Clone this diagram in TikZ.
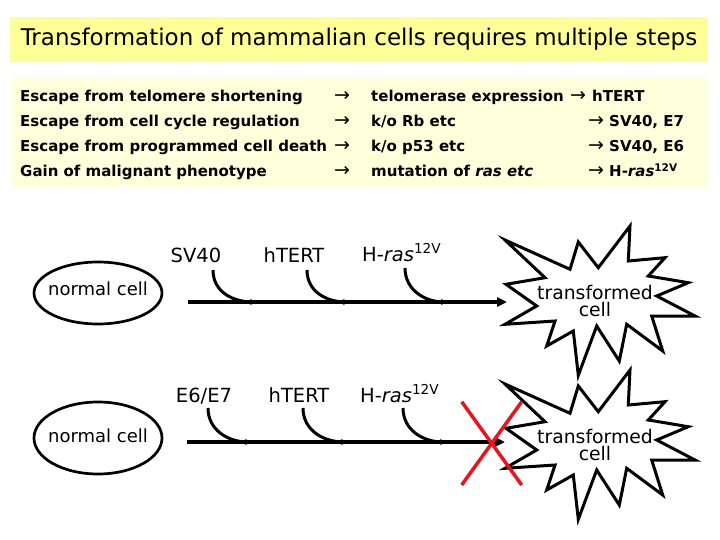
\documentclass[tikz,border=0pt]{standalone}
\usepackage{fontspec}
\setmainfont{DejaVu Sans}
\usetikzlibrary{arrows.meta,shapes.geometric}
\definecolor{titlebg}{HTML}{FFFF99}
\definecolor{infobg}{HTML}{FFFFDC}
\definecolor{xred}{HTML}{E5161D}
\begin{document}
\begin{tikzpicture}[x=1pt,y=-1pt,
 titlebox/.style={fill=titlebg,minimum width=698pt,minimum height=45pt,inner sep=0pt,font=\fontsize{23}{27}\selectfont},
 infobox/.style={fill=infobg,minimum width=696pt,minimum height=110pt,inner sep=0pt,anchor=north west},
 listtxt/.style={anchor=base west,inner sep=0pt,font=\bfseries\fontsize{15}{18}\selectfont},
 listarr/.style={anchor=base west,inner sep=0pt,font=\fontsize{19}{18}\selectfont},
 lbl/.style={anchor=base,inner sep=0pt,font=\fontsize{19.5}{23}\selectfont},
 lblw/.style={anchor=base west,inner sep=0pt,font=\fontsize{19.5}{23}\selectfont},
 cellshape/.style={ellipse,draw,line width=2.7pt,inner sep=0pt,minimum width=128pt},
 celltext/.style={anchor=base,inner sep=0pt,font=\fontsize{18}{22}\selectfont},
 tcell/.style={align=center,inner sep=0pt,font=\fontsize{18.8}{17}\selectfont},
 mainline/.style={line width=3.5pt,-{Triangle[length=10pt,width=9pt]}},
 feed/.style={line width=3pt,-{Stealth[length=7pt,width=6pt]}},
 burst/.style={line width=3pt,line join=miter,miter limit=12},
 redx/.style={draw=xred,line width=3.5pt},
]
\fill[white] (0,0) rectangle (720,540);
\useasboundingbox (0,0) rectangle (720,540);

% title
\node[titlebox] (title) at (359,39.5) {Transformation of mammalian cells requires multiple steps};

% info box
\node[infobox] (info) at (12,78) {};
\node[listtxt] (a1) at (20,102) {Escape from telomere shortening};
\node[listtxt] (a2) at (20,127) {Escape from cell cycle regulation};
\node[listtxt] (a3) at (20,152) {Escape from programmed cell death};
\node[listtxt] (a4) at (20,177) {Gain of malignant phenotype};
\foreach \y/\n in {102/1,127/2,152/3,177/4}{
  \node[listarr] (b\n) at (334,\y) {→};
}
\node[listtxt] (c1) at (371,102) {telomerase expression};
\node[listtxt] (c2) at (371,127) {k/o Rb etc};
\node[listtxt] (c3) at (371,152) {k/o p53 etc};
\node[listtxt] (c4) at (371,177) {mutation of \textit{ras etc}};
\node[listarr] (d1) at (570,102) {→};
\node[listarr] (d2) at (588,127) {→};
\node[listarr] (d3) at (588,152) {→};
\node[listarr] (d4) at (588,177) {→};
\node[listtxt] (e1) at (592,102) {hTERT};
\node[listtxt] (e2) at (609,127) {SV40, E7};
\node[listtxt] (e3) at (609,152) {SV40, E6};
\node[listtxt] (e4) at (609,177) {H-\textit{ras}\textsuperscript{12V}};

% ---- row 1
\node[cellshape,minimum height=62pt] (nc1) at (98,293) {};
\node[celltext] (nt1) at (98,295) {normal cell};
\node[lbl] (sv) at (196,262) {SV40};
\node[lbl] (ht1) at (294,262) {hTERT};
\node[lblw] (hr1) at (362,261) {H-\textit{ras}\textsuperscript{12V}};
\coordinate (s1) at (188,302);
\coordinate (t1) at (507,302);
\coordinate (f11) at (213,270); \coordinate (j11) at (257,302);
\coordinate (f12) at (307,270); \coordinate (j12) at (350,302);
\coordinate (f13) at (405,268); \coordinate (j13) at (448,302);
\draw[mainline] (s1) -- (t1);
\draw[feed] (f11) .. controls (213,292) and (233,302) .. (j11);
\draw[feed] (f12) .. controls (307,292) and (327,302) .. (j12);
\draw[feed] (f13) .. controls (405,290) and (425,302) .. (j13);

% ---- row 2
\node[cellshape,minimum height=72pt] (nc2) at (98,438) {};
\node[celltext] (nt2) at (98,442) {normal cell};
\node[lbl] (e67) at (204,402) {E6/E7};
\node[lbl] (ht2) at (299,402) {hTERT};
\node[lblw] (hr2) at (360,402) {H-\textit{ras}\textsuperscript{12V}};
\coordinate (s2) at (187,442);
\coordinate (t2) at (505,442);
\coordinate (f21) at (208,408); \coordinate (j21) at (252,442);
\coordinate (f22) at (303,408); \coordinate (j22) at (348,442);
\coordinate (f23) at (403,408); \coordinate (j23) at (447,442);
\draw[mainline] (s2) -- (t2);
\draw[feed] (f21) .. controls (208,430) and (228,442) .. (j21);
\draw[feed] (f22) .. controls (303,430) and (323,442) .. (j22);
\draw[feed] (f23) .. controls (403,430) and (423,442) .. (j23);

% ---- starbursts
\foreach \cy/\n in {301/1,445/2}{
\begin{scope}[shift={(597,\cy)}]
\draw[burst] (-92,-61) -- (-27,-31.7) -- (-18.7,-59) -- (1.3,-33.3) -- (33,-75) -- (31.3,-40)
  -- (68,-43.3) -- (51.3,-25) -- (91.3,-18.3) -- (59.7,-5) -- (98,15) -- (54.7,15)
  -- (65.7,50) -- (29.7,23.3) -- (22.3,60) -- (-0.3,25) -- (-18.7,74.3) -- (-23.7,30)
  -- (-50.3,45) -- (-42,20) -- (-92,23.3) -- (-60.3,5) -- (-91,-16.7) -- (-52,-23.3) -- cycle;
\end{scope}
}
\node[tcell] (tc1) at (595,301) {transformed\\cell};
\node[tcell] (tc2) at (595,445) {transformed\\cell};

% ---- red cross
\draw[redx] (461.7,401.7) -- (521.7,485);
\draw[redx] (521.7,401.7) -- (461.7,485);
\end{tikzpicture}
\end{document}
